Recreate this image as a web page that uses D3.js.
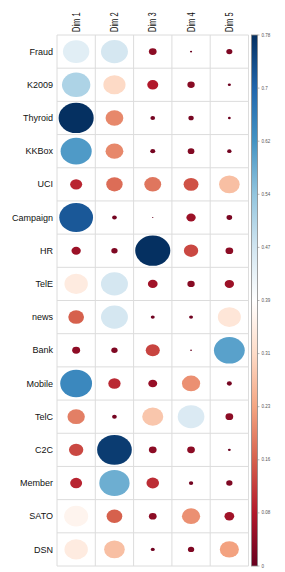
<!DOCTYPE html>
<html><head><meta charset="utf-8">
<script src="https://cdn.jsdelivr.net/npm/d3@7"></script>
<style>body{margin:0;background:#fff}svg{display:block}</style>
</head><body><svg id="c" width="285" height="572"></svg>
<script>
const rows = ["Fraud","K2009","Thyroid","KKBox","UCI","Campaign","HR","TelE","news","Bank","Mobile","TelC","C2C","Member","SATO","DSN"];
const cols = ["Dim 1","Dim 2","Dim 3","Dim 4","Dim 5"];
const values = [
 [0.44,0.46,0.038,0.003,0.023],
 [0.51,0.31,0.077,0.034,0.006],
 [0.777,0.20,0.014,0.018,0.005],
 [0.61,0.20,0.016,0.028,0.012],
 [0.092,0.17,0.18,0.14,0.27],
 [0.72,0.014,0.001,0.055,0.02],
 [0.055,0.025,0.777,0.13,0.038],
 [0.345,0.46,0.06,0.034,0.055],
 [0.156,0.46,0.01,0.01,0.335],
 [0.04,0.025,0.125,0.002,0.6],
 [0.64,0.096,0.05,0.21,0.016],
 [0.19,0.014,0.28,0.45,0.038],
 [0.13,0.76,0.038,0.038,0.005],
 [0.091,0.58,0.10,0.012,0.025],
 [0.365,0.156,0.038,0.21,0.06],
 [0.345,0.27,0.01,0.025,0.23]
];
const tickLabels = ["0","0.08","0.16","0.23","0.31","0.39","0.47","0.54","0.62","0.7","0.78"];
const palette = ["#67001F","#B2182B","#D6604D","#F4A582","#FDDBC7","#FFFFFF","#D1E5F0","#92C5DE","#4393C3","#2166AC","#053061"];
const vmax = 0.777;

const svg = d3.select("#c");
const L=57, R=248.5, T=35, B=566;
const x = d3.scaleBand().domain(cols).range([L,R]);
const y = d3.scaleBand().domain(rows).range([T,B]);
const color = d3.scaleLinear().domain(palette.map((_,i)=>i*vmax/10)).range(palette).clamp(true);
const rs = d3.scaleSqrt().domain([0,vmax]).range([0,1]);

// grid
const g = svg.append("g");
g.selectAll("line.v").data(d3.range(cols.length+1)).join("line")
 .attr("x1",i=>L+i*x.bandwidth()).attr("x2",i=>L+i*x.bandwidth())
 .attr("y1",T).attr("y2",B).attr("stroke","#dcdcdc").attr("stroke-width",1);
g.selectAll("line.h").data(d3.range(rows.length+1)).join("line")
 .attr("y1",i=>T+i*y.bandwidth()).attr("y2",i=>T+i*y.bandwidth())
 .attr("x1",L).attr("x2",R).attr("stroke","#dcdcdc").attr("stroke-width",1);

const cells=[];
values.forEach((r,i)=>r.forEach((v,j)=>cells.push({row:rows[i],col:cols[j],v})));
svg.append("g").selectAll("ellipse").data(cells).join("ellipse")
 .attr("cx",d=>x(d.col)+x.bandwidth()/2)
 .attr("cy",d=>y(d.row)+y.bandwidth()/2)
 .attr("rx",d=>rs(d.v)*x.bandwidth()*0.458)
 .attr("ry",d=>rs(d.v)*y.bandwidth()*0.455)
 .attr("fill",d=>color(d.v));

// row labels
svg.append("g").selectAll("text").data(rows).join("text")
 .attr("x",L-4).attr("y",d=>y(d)+y.bandwidth()/2).attr("dy","0.35em")
 .attr("text-anchor","end").attr("font-family","Liberation Sans, Arial, sans-serif")
 .attr("font-size",9).attr("fill","#111").text(d=>d);
// col labels
svg.append("g").selectAll("text").data(cols).join("text")
 .attr("transform",d=>`translate(${x(d)+x.bandwidth()/2},${T-3}) rotate(-90) scale(0.75,1)`)
 .attr("dy","0.35em").attr("text-anchor","start").attr("font-family","Liberation Sans, Arial, sans-serif")
 .attr("font-size",10).attr("fill","#111").text(d=>d);

// colorbar
const defs = svg.append("defs");
const grad = defs.append("linearGradient").attr("id","cb").attr("x1",0).attr("y1",1).attr("x2",0).attr("y2",0);
palette.forEach((c,i)=>grad.append("stop").attr("offset",i/10).attr("stop-color",c));
const cbX=251.5, cbW=6;
const cy = d3.scaleLinear().domain([0,10]).range([B,T]);
svg.append("rect").attr("x",cbX).attr("y",T).attr("width",cbW).attr("height",B-T)
 .attr("fill","url(#cb)").attr("stroke","#888").attr("stroke-width",0.8);
const tg = svg.append("g");
tg.selectAll("line").data(tickLabels).join("line")
 .attr("x1",cbX+cbW).attr("x2",cbX+cbW+2).attr("y1",(d,i)=>cy(i)).attr("y2",(d,i)=>cy(i))
 .attr("stroke","#888").attr("stroke-width",0.6);
tg.selectAll("text").data(tickLabels).join("text")
 .attr("x",cbX+cbW+4).attr("y",(d,i)=>cy(i)).attr("dy","0.35em")
 .attr("font-family","Liberation Sans, Arial, sans-serif").attr("font-size",4.5).attr("fill","#555").text(d=>d);
</script></body></html>
